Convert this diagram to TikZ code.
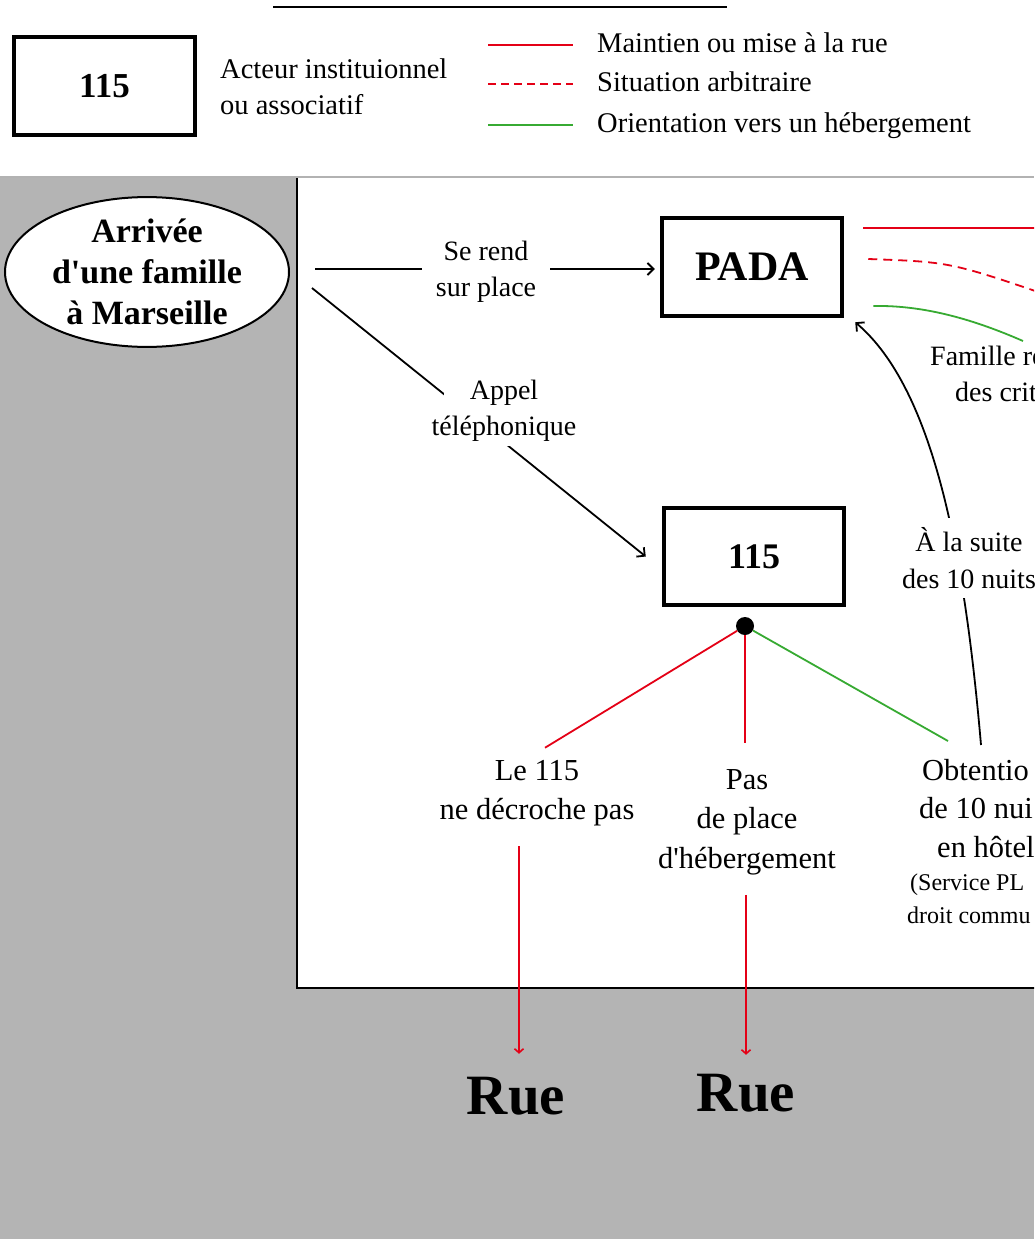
\documentclass[tikz,border=0pt]{standalone}
\usepackage{fontspec}
\setmainfont{Liberation Serif}
\usetikzlibrary{shapes.geometric,arrows.meta}
\definecolor{rred}{RGB}{228,0,22}
\definecolor{ggreen}{RGB}{55,170,50}
\definecolor{bggray}{RGB}{180,180,180}
\begin{document}
\begin{tikzpicture}[x=1pt,y=-1pt,
  txt/.style={inner sep=0pt, align=center, font=\fontsize{28}{36}\selectfont},
  legtxt/.style={inner sep=0pt, anchor=west, font=\fontsize{28.5}{36}\selectfont, text height=19pt, text depth=6pt},
  big/.style={inner sep=0pt, align=center, font=\fontsize{30.5}{39.5}\selectfont},
  actor/.style={draw, line width=4.5pt, minimum width=180pt, minimum height=98pt, inner sep=0pt, font=\bfseries\fontsize{36}{40}\selectfont},
  tip/.style={-{Straight Barb[length=6pt,width=12pt,line width=1.8pt]}},
  rtip/.style={-{Straight Barb[length=4pt,width=9pt,line width=1.6pt]}},
  conn/.style={draw=black, line width=1.8pt, tip},
  redl/.style={draw=rred, line width=1.8pt},
  greenl/.style={draw=ggreen, line width=1.8pt},
  ruetxt/.style={inner sep=0pt, font=\bfseries\fontsize{57}{60}\selectfont}
]
\useasboundingbox (0,0) rectangle (1034,1239);
\clip (0,0) rectangle (1034,1239);
% background
\fill[bggray] (0,178) rectangle (1034,1239);
\fill[white] (297,178) rectangle (1040,988);
\draw[line width=2pt] (297,178) -- (297,988) -- (1040,988);
\draw[black!30, line width=1.2pt] (0,177) -- (1034,177);
\draw[line width=2pt] (273,7) -- (727,7);

% legend
\node[actor, font=\bfseries\fontsize{35}{40}\selectfont, minimum width=181pt] (leg) at (104.5,86) {115};
\node[inner sep=0pt, align=left, anchor=west, font=\fontsize{28.5}{36}\selectfont] (legact) at (220,87) {Acteur instituionnel\\ou associatif};
\draw[redl] (488,45) -- (573,45);
\draw[redl, dash pattern=on 8pt off 5pt] (488,84) -- (573,84);
\draw[greenl] (488,125) -- (573,125);
\node[legtxt] (l1) at (597,46) {Maintien ou mise à la rue};
\node[legtxt] (l2) at (597,85) {Situation arbitraire};
\node[legtxt] (l3) at (597,126) {Orientation vers un hébergement};

% main nodes
\node[draw, ellipse, line width=2pt, fill=white, minimum width=284pt, minimum height=142pt, inner sep=0pt, align=center, font=\bfseries\fontsize{34}{41}\selectfont] (arr) at (147,272) {Arrivée\\d\textquotesingle une famille\\à Marseille};
\node[actor, font=\bfseries\fontsize{42}{46}\selectfont] (pada) at (752,267) {PADA};
\node[actor, minimum height=97pt] (b115) at (754,556.5) {115};
\node[circle, fill, inner sep=0pt, minimum size=18pt] (dot) at (745,626) {};
\node[big] (le115) at (537,793) {Le 115\\ne décroche pas};
\node[big] (pas) at (747,822) {Pas\\de place\\d\textquotesingle hébergement};
\node[inner sep=0pt, align=left, anchor=north west, font=\fontsize{30.5}{38.5}\selectfont] (obt) at (907,759) {\hspace*{15pt}Obtentio\\\hspace*{12pt}de 10 nui\\\hspace*{30pt}en hôtel\\[-5.5pt]{\fontsize{24}{33}\selectfont\hspace*{3pt}(Service PL}\\[-5.5pt]{\fontsize{24}{33}\selectfont droit commu}};
\node[inner sep=0pt, align=left, anchor=north west, font=\fontsize{28}{36}\selectfont] (fam) at (930,346) {Famille re\\\hspace*{25pt}des crit};
\node[ruetxt] (rue1) at (516,1096) {Rue};
\node[ruetxt] (rue2) at (746,1093) {Rue};
\coordinate (offa) at (1060,228);
\coordinate (offb) at (1050,296);

% connectors
\draw[conn] ([xshift=25pt,yshift=3pt]arr.east) -- ([xshift=-5pt,yshift=-2pt]pada.west);
\draw[conn] ([xshift=22pt,yshift=-16pt]arr.east) -- ([xshift=-16pt]b115.west);
\draw[redl] (dot) -- ([xshift=8pt,yshift=12pt]le115.north);
\draw[redl] (dot) -- ([xshift=-2pt,yshift=26pt]pas.north);
\draw[greenl] (dot) -- ([xshift=41pt,yshift=18pt]obt.north west);
\draw[redl, rtip] ([xshift=-18pt,yshift=-20pt]le115.south) -- ([xshift=3pt,yshift=23pt]rue1.north);
\draw[redl, rtip] ([xshift=-1pt,yshift=-20pt]pas.south) -- ([yshift=19pt]rue2.north);
\draw[redl] ([xshift=19pt,yshift=39pt]pada.east) -- (offa);
\draw[redl, dash pattern=on 9pt off 6pt] ([xshift=24pt,yshift=8pt]pada.east) .. controls (950,262) .. (offb);
\draw[greenl] ([xshift=29pt,yshift=-39pt]pada.east) .. controls (925,305) and (975,320) .. ([xshift=93pt,yshift=5pt]fam.north west);
\draw[conn] ([xshift=74pt,yshift=14pt]obt.north west) .. controls (965,560) and (935,390) .. ([xshift=11pt,yshift=-4pt]pada.south east);

% labels on connectors
\node[txt, fill=white, inner xsep=14pt, inner ysep=3pt] (serend) at (486,272) {Se rend\\sur place};
\node[txt, fill=white, inner xsep=-12pt, inner ysep=4pt] (appel) at (504,411) {Appel\\téléphonique};
\node[txt, fill=white, inner xsep=3pt, inner ysep=9pt, font=\fontsize{28}{37}\selectfont] (suite) at (969,558) {À la suite\\des 10 nuits};
\end{tikzpicture}
\end{document}
